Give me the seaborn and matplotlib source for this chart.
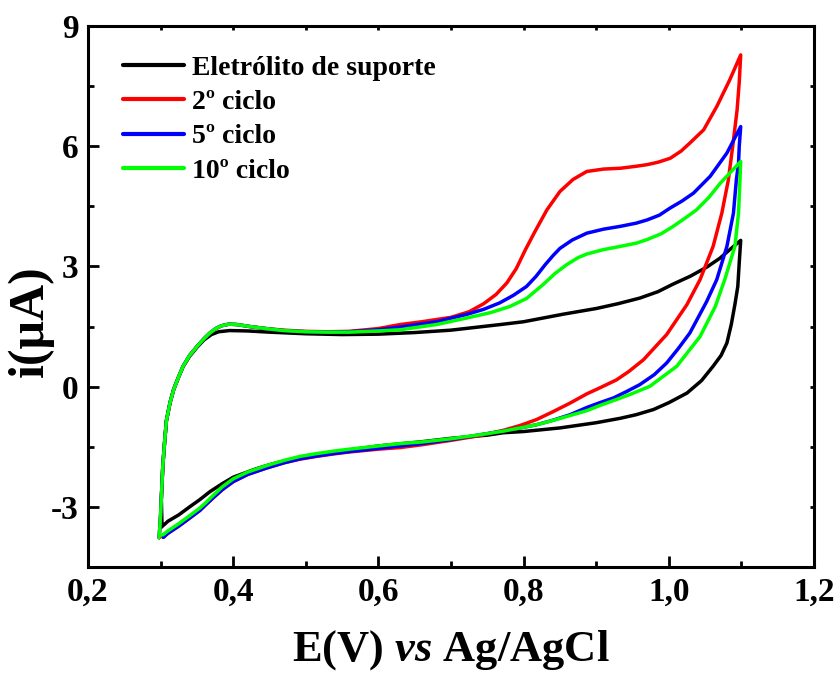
import numpy as np
import pandas as pd
import matplotlib
matplotlib.use("Agg")
import matplotlib.pyplot as plt
import seaborn as sns
from matplotlib.ticker import MultipleLocator

# Cyclic voltammograms: forward (anodic) sweep 0.3 -> 1.1 V, then reverse back to 0.3 V
series_names = ["Eletrólito de suporte", "2º ciclo", "5º ciclo", "10º ciclo"]
series_colors = ["#000000", "#ff0000", "#0000ff", "#00ff00"]

# Supporting electrolyte
E_black = [0.302, 0.301, 0.303, 0.305, 0.308, 0.313, 0.318, 0.325, 0.331, 0.340, 0.350, 0.360, 0.370,
           0.380, 0.395, 0.420, 0.450, 0.500, 0.550, 0.600, 0.650, 0.700, 0.768, 0.800, 0.855, 0.900,
           0.930, 0.960, 0.985, 1.006, 1.030, 1.052, 1.070, 1.084, 1.099,
           1.097, 1.095, 1.091, 1.086, 1.080, 1.072, 1.061, 1.045, 1.025, 1.000, 0.979, 0.955, 0.933,
           0.900, 0.850, 0.800, 0.772, 0.750, 0.700, 0.657, 0.600, 0.560, 0.520, 0.492, 0.460, 0.446,
           0.430, 0.400, 0.385, 0.368, 0.354, 0.340, 0.325, 0.310, 0.304]
i_black = [-3.50, -2.80, -2.00, -1.50, -0.85, -0.40, -0.07, 0.25, 0.50, 0.76, 0.98, 1.17, 1.30,
           1.37, 1.40, 1.39, 1.36, 1.32, 1.30, 1.31, 1.35, 1.41, 1.55, 1.62, 1.81, 1.95,
           2.07, 2.21, 2.37, 2.56, 2.76, 2.98, 3.20, 3.42, 3.65,
           3.10, 2.50, 2.05, 1.55, 1.09, 0.78, 0.51, 0.15, -0.16, -0.40, -0.57, -0.70, -0.79,
           -0.90, -1.03, -1.12, -1.15, -1.21, -1.29, -1.38, -1.48, -1.58, -1.69, -1.78, -1.90, -1.97,
           -2.06, -2.26, -2.42, -2.62, -2.82, -3.00, -3.20, -3.36, -3.46]

# 2nd cycle
E_red = [0.298, 0.300, 0.301, 0.303, 0.305, 0.308, 0.313, 0.318, 0.325, 0.331, 0.340, 0.350, 0.360,
         0.368, 0.376, 0.384, 0.394, 0.405, 0.423, 0.445, 0.469, 0.500, 0.530, 0.560, 0.600, 0.630,
         0.660, 0.700, 0.725, 0.745, 0.762, 0.777, 0.790, 0.802, 0.815, 0.832, 0.850, 0.868, 0.887,
         0.910, 0.933, 0.955, 0.970, 0.985, 1.002, 1.017, 1.029, 1.048, 1.066, 1.084, 1.099,
         1.097, 1.094, 1.088, 1.082, 1.073, 1.061, 1.043, 1.025, 0.997, 0.965, 0.945, 0.928, 0.905,
         0.887, 0.864, 0.841, 0.818, 0.795, 0.772, 0.740, 0.700, 0.660, 0.630, 0.600, 0.560, 0.538,
         0.515, 0.492, 0.470, 0.446, 0.420, 0.400, 0.385, 0.372, 0.362, 0.354, 0.340, 0.325, 0.310,
         0.303]
i_red = [-3.77, -3.20, -2.80, -2.00, -1.50, -0.85, -0.40, -0.07, 0.25, 0.51, 0.78, 1.00, 1.20,
         1.34, 1.45, 1.52, 1.56, 1.55, 1.50, 1.45, 1.41, 1.38, 1.37, 1.38, 1.45, 1.55,
         1.62, 1.73, 1.87, 2.07, 2.30, 2.59, 2.95, 3.40, 3.85, 4.41, 4.87, 5.17, 5.37,
         5.43, 5.45, 5.50, 5.54, 5.60, 5.70, 5.88, 6.08, 6.41, 6.99, 7.66, 8.28,
         7.60, 6.90, 6.00, 5.16, 4.33, 3.50, 2.67, 2.05, 1.30, 0.67, 0.38, 0.17, -0.03,
         -0.18, -0.41, -0.62, -0.82, -0.97, -1.09, -1.22, -1.34, -1.45, -1.52, -1.56, -1.63, -1.68,
         -1.74, -1.81, -1.90, -2.03, -2.19, -2.37, -2.57, -2.78, -2.95, -3.09, -3.28, -3.48, -3.66,
         -3.76]

# 5th cycle
E_blue = [0.298, 0.300, 0.301, 0.303, 0.305, 0.308, 0.313, 0.318, 0.325, 0.331, 0.340, 0.350, 0.360,
          0.368, 0.376, 0.384, 0.394, 0.405, 0.423, 0.445, 0.469, 0.500, 0.530, 0.560, 0.600, 0.630,
          0.680, 0.721, 0.745, 0.767, 0.786, 0.804, 0.817, 0.830, 0.841, 0.850, 0.867, 0.887, 0.910,
          0.933, 0.955, 0.970, 0.987, 1.002, 1.018, 1.034, 1.057, 1.080, 1.099,
          1.097, 1.096, 1.093, 1.089, 1.080, 1.066, 1.052, 1.029, 1.013, 0.997, 0.980, 0.960, 0.942,
          0.924, 0.905, 0.887, 0.864, 0.840, 0.818, 0.795, 0.772, 0.740, 0.700, 0.660, 0.630, 0.600,
          0.560, 0.538, 0.515, 0.492, 0.470, 0.446, 0.420, 0.400, 0.385, 0.372, 0.362, 0.354, 0.340,
          0.325, 0.310, 0.304]
i_blue = [-3.77, -3.20, -2.80, -2.00, -1.50, -0.85, -0.40, -0.07, 0.25, 0.51, 0.78, 1.00, 1.20,
          1.34, 1.45, 1.52, 1.56, 1.55, 1.50, 1.45, 1.40, 1.37, 1.36, 1.37, 1.42, 1.49,
          1.62, 1.80, 1.93, 2.09, 2.28, 2.50, 2.75, 3.05, 3.28, 3.45, 3.66, 3.83, 3.93,
          4.00, 4.08, 4.16, 4.28, 4.46, 4.63, 4.83, 5.25, 5.83, 6.49,
          6.00, 5.58, 5.16, 4.33, 3.50, 2.67, 2.12, 1.34, 0.95, 0.59, 0.30, 0.05, -0.12,
          -0.28, -0.40, -0.52, -0.70, -0.84, -0.95, -1.03, -1.11, -1.20, -1.32, -1.42, -1.48, -1.54,
          -1.62, -1.67, -1.73, -1.80, -1.90, -2.03, -2.19, -2.37, -2.57, -2.78, -2.95, -3.09, -3.28,
          -3.48, -3.66, -3.76]

# 10th cycle
E_green = [0.298, 0.300, 0.301, 0.303, 0.305, 0.308, 0.313, 0.318, 0.325, 0.331, 0.340, 0.350, 0.360,
           0.368, 0.376, 0.384, 0.394, 0.405, 0.423, 0.445, 0.469, 0.500, 0.530, 0.560, 0.600, 0.630,
           0.680, 0.721, 0.755, 0.781, 0.804, 0.827, 0.843, 0.859, 0.875, 0.887, 0.910, 0.933, 0.955,
           0.970, 0.990, 1.006, 1.022, 1.038, 1.055, 1.071, 1.085, 1.099,
           1.098, 1.096, 1.091, 1.077, 1.064, 1.043, 1.011, 0.974, 0.950, 0.928, 0.905, 0.887, 0.864,
           0.841, 0.818, 0.795, 0.772, 0.740, 0.700, 0.660, 0.630, 0.600, 0.560, 0.538, 0.515, 0.492,
           0.470, 0.446, 0.420, 0.400, 0.385, 0.372, 0.362, 0.354, 0.340, 0.325, 0.310, 0.303]
i_green = [-3.77, -3.20, -2.80, -2.00, -1.50, -0.85, -0.40, -0.07, 0.25, 0.51, 0.78, 1.00, 1.20,
           1.34, 1.45, 1.52, 1.56, 1.55, 1.50, 1.45, 1.40, 1.37, 1.36, 1.36, 1.39, 1.42,
           1.55, 1.71, 1.85, 2.00, 2.20, 2.55, 2.82, 3.04, 3.22, 3.31, 3.42, 3.50, 3.58,
           3.67, 3.82, 4.00, 4.20, 4.41, 4.72, 5.08, 5.35, 5.62,
           5.16, 4.33, 3.50, 2.67, 2.00, 1.25, 0.51, 0.01, -0.17, -0.32, -0.47, -0.60, -0.72,
           -0.84, -0.95, -1.03, -1.11, -1.20, -1.30, -1.38, -1.42, -1.48, -1.56, -1.61, -1.67, -1.74,
           -1.84, -1.97, -2.13, -2.30, -2.50, -2.72, -2.90, -3.03, -3.22, -3.42, -3.60, -3.70]

x_ticks = [0.2, 0.4, 0.6, 0.8, 1.0, 1.2]
x_tick_labels = ["0,2", "0,4", "0,6", "0,8", "1,0", "1,2"]
y_ticks = [-3, 0, 3, 6, 9]
y_tick_labels = ["-3", "0", "3", "6", "9"]

frames = []
for name, E, cur in zip(series_names,
                        [E_black, E_red, E_blue, E_green],
                        [i_black, i_red, i_blue, i_green]):
    frames.append(pd.DataFrame({"E": E, "i": cur, "serie": name, "ordem": np.arange(len(E))}))
df = pd.concat(frames, ignore_index=True)

sns.set_style("ticks")
plt.rcParams["font.family"] = ["Liberation Serif", "DejaVu Serif"]
plt.rcParams["font.weight"] = "bold"
plt.rcParams["axes.unicode_minus"] = False
plt.rcParams["text.color"] = "black"
plt.rcParams["axes.labelcolor"] = "black"
plt.rcParams["xtick.color"] = "black"
plt.rcParams["ytick.color"] = "black"
plt.rcParams["mathtext.fontset"] = "custom"
plt.rcParams["mathtext.it"] = "Liberation Serif:italic:bold"

fig = plt.figure(figsize=(8.38, 6.74), dpi=100)
ax = fig.add_axes([0.105, 0.1588, 0.8664, 0.8026])

sns.lineplot(data=df, x="E", y="i", hue="serie", hue_order=series_names,
             palette=series_colors, sort=False, estimator=None, units="serie",
             linewidth=2.5, ax=ax)

ax.set_xlim(0.2, 1.2)
ax.set_ylim(-4.5, 9)
ax.set_xticks(x_ticks)
ax.set_xticklabels(x_tick_labels)
ax.set_yticks(y_ticks)
ax.set_yticklabels(y_tick_labels)
ax.xaxis.set_minor_locator(MultipleLocator(0.1))
ax.yaxis.set_minor_locator(MultipleLocator(1.5))

for s in ax.spines.values():
    s.set_linewidth(2.2)
    s.set_color("black")

# bottom/left: long inward ticks; top/right: small notches only
ax.tick_params(which="major", direction="in", length=8, width=2, labelsize=24, pad=7,
               colors="black", top=False, right=False)
ax.tick_params(which="minor", direction="in", length=4, width=2, top=False, right=False)
ax.tick_params(which="both", axis="x", top=True)
ax.tick_params(which="both", axis="y", right=True)
for tick in ax.xaxis.get_major_ticks() + ax.xaxis.get_minor_ticks():
    tick.tick2line.set_markersize(3)
for tick in ax.yaxis.get_major_ticks() + ax.yaxis.get_minor_ticks():
    tick.tick2line.set_markersize(3)
for t in ax.get_xticklabels() + ax.get_yticklabels():
    t.set_fontweight("bold")

ax.set_xlabel(r"E(V) $\mathit{vs}$ Ag/AgCl", fontsize=32, fontweight="bold", labelpad=15,
              color="black")
ax.set_ylabel("i(μA)", fontsize=36, fontweight="bold", color="black")
ax.yaxis.set_label_coords(-0.047, 0.455)

leg = ax.legend(loc="upper left", bbox_to_anchor=(0.048, 0.946), frameon=False,
                fontsize=20, handlelength=2.2, handletextpad=0.3, labelspacing=0.32,
                borderpad=0, borderaxespad=0)
for line in leg.get_lines():
    line.set_linewidth(3)
for t in leg.get_texts():
    t.set_fontweight("bold")
    t.set_color("black")

fig.savefig("out.png", dpi=100, facecolor="white")
